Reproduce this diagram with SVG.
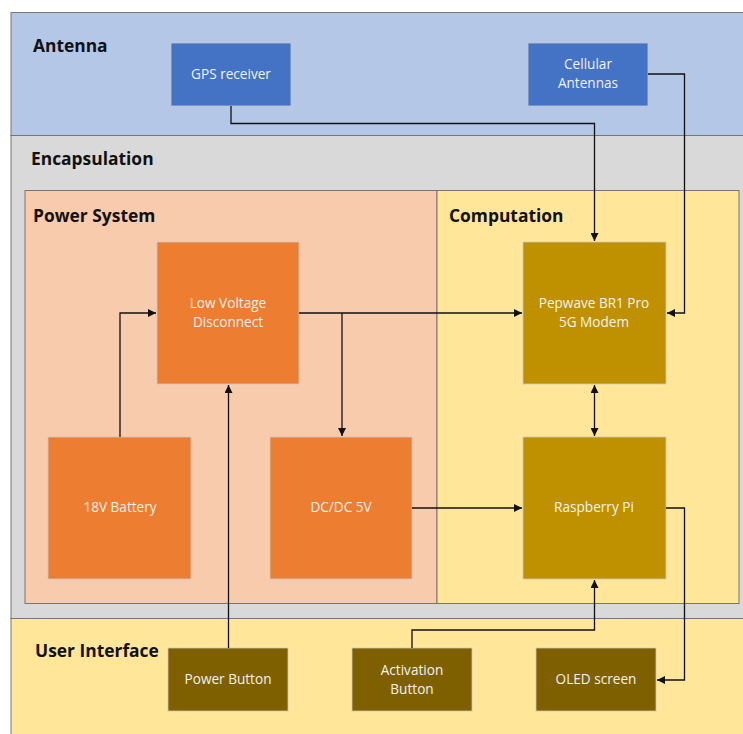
<svg xmlns="http://www.w3.org/2000/svg" width="743" height="734" viewBox="0 0 743 734">
<style>
.band{stroke:#767676;stroke-width:1}
.node{stroke:#c9c9c9;stroke-width:0.8}
.h{font-family:"Open Sans","Noto Sans",sans-serif;font-weight:bold;font-size:17.4px;fill:#111}
.t{font-family:"Open Sans","Noto Sans",sans-serif;font-size:13.6px;fill:#f2f2f2;text-anchor:middle}
.c{fill:none;stroke:#111;stroke-width:1.3}
</style>
<defs>
<marker id="a" viewBox="0 0 10 10" refX="10" refY="5" markerWidth="8" markerHeight="8" markerUnits="userSpaceOnUse" orient="auto-start-reverse">
<path d="M0,0L10,5L0,10z" fill="#111"/>
</marker>
</defs>
<rect width="743" height="734" fill="#fff"/>
<g id="antenna-band">
<rect class="band" x="11" y="12.5" width="740" height="123" fill="#B4C7E7"/>
<text class="h" x="33" y="52">Antenna</text>
</g>
<g id="encapsulation-band">
<rect class="band" x="11" y="135.5" width="740" height="483" fill="#D9D9D9"/>
<text class="h" x="31" y="165">Encapsulation</text>
</g>
<g id="ui-band">
<rect class="band" x="11" y="618.5" width="740" height="130" fill="#FFE699"/>
<text class="h" x="35" y="657">User Interface</text>
</g>
<g id="power-system">
<rect class="band" x="25" y="190.5" width="412" height="413" fill="#F8CBAD"/>
<text class="h" x="33" y="222">Power System</text>
</g>
<g id="computation">
<rect class="band" x="437" y="190.5" width="302" height="413" fill="#FFE699"/>
<text class="h" x="449" y="222">Computation</text>
</g>
<g id="gps">
<rect class="node" x="171" y="43" width="120" height="63" fill="#4472C4"/>
<text class="t" x="231" y="79">GPS receiver</text>
</g>
<g id="cellular">
<rect class="node" x="528" y="43" width="120" height="63" fill="#4472C4"/>
<text class="t" x="588" y="69">Cellular</text>
<text class="t" x="588" y="88">Antennas</text>
</g>
<g id="lvd">
<rect class="node" x="157" y="242" width="142" height="142" fill="#ED7D31"/>
<text class="t" x="228" y="308">Low Voltage</text>
<text class="t" x="228" y="327">Disconnect</text>
</g>
<g id="battery">
<rect class="node" x="48" y="437" width="143" height="142" fill="#ED7D31"/>
<text class="t" x="120" y="512">18V Battery</text>
</g>
<g id="dcdc">
<rect class="node" x="270" y="437" width="142" height="142" fill="#ED7D31"/>
<text class="t" x="341" y="512">DC/DC 5V</text>
</g>
<g id="modem">
<rect class="node" x="523" y="242" width="143" height="142" fill="#BF9000"/>
<text class="t" x="594" y="308">Pepwave BR1 Pro</text>
<text class="t" x="594" y="327">5G Modem</text>
</g>
<g id="rpi">
<rect class="node" x="523" y="437" width="143" height="142" fill="#BF9000"/>
<text class="t" x="594" y="512">Raspberry Pi</text>
</g>
<g id="power-button">
<rect class="node" x="168" y="648" width="120" height="63" fill="#7F6000"/>
<text class="t" x="228" y="684">Power Button</text>
</g>
<g id="activation-button">
<rect class="node" x="352" y="648" width="120" height="63" fill="#7F6000"/>
<text class="t" x="412" y="675">Activation</text>
<text class="t" x="412" y="694">Button</text>
</g>
<g id="oled">
<rect class="node" x="536" y="648" width="120" height="63" fill="#7F6000"/>
<text class="t" x="596" y="684">OLED screen</text>
</g>
<g id="connectors">
<path class="c" d="M231,106V123.5H594.5V241" marker-end="url(#a)"/>
<path class="c" d="M648,74H684.5V313H667" marker-end="url(#a)"/>
<path class="c" d="M120,437V313H156" marker-end="url(#a)"/>
<path class="c" d="M228.5,648V385" marker-end="url(#a)"/>
<path class="c" d="M299,313H522" marker-end="url(#a)"/>
<path class="c" d="M342,313V436" marker-end="url(#a)"/>
<path class="c" d="M412,508H522" marker-end="url(#a)"/>
<path class="c" d="M594.5,385V436" marker-start="url(#a)" marker-end="url(#a)"/>
<path class="c" d="M412,648V630H594.5V580" marker-end="url(#a)"/>
<path class="c" d="M666,508H684.5V680H657" marker-end="url(#a)"/>
</g>
</svg>
